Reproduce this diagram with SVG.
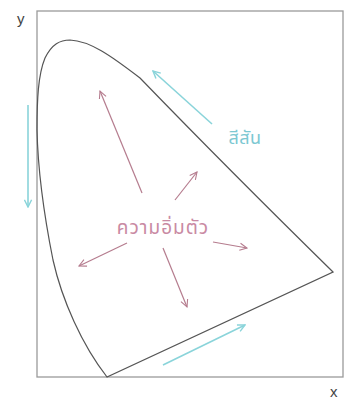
<svg xmlns="http://www.w3.org/2000/svg" width="347" height="401" viewBox="0 0 347 401">
<style>
.frame{fill:none;stroke:#9a9a9a;stroke-width:1.3}
.curve{fill:none;stroke:#555;stroke-width:1.2}
.cy{fill:none;stroke:#8ad4da;stroke-width:1.6;marker-end:url(#hc)}
.pk{fill:none;stroke:#b57c8e;stroke-width:1.2;marker-end:url(#hp)}
.ax{font-family:"Liberation Sans",Arial,sans-serif;font-size:15px;fill:#444}
.th{font-family:"Noto Sans Thai","Noto Sans","DejaVu Sans",sans-serif}
</style>
<defs>
<marker id="hc" viewBox="0 0 10 10" refX="9" refY="5" markerWidth="9" markerHeight="9" markerUnits="userSpaceOnUse" orient="auto"><path d="M1,1 L9,5 L1,9" fill="none" stroke="#8ad4da" stroke-width="1.6"/></marker>
<marker id="hp" viewBox="0 0 10 10" refX="9" refY="5" markerWidth="9" markerHeight="9" markerUnits="userSpaceOnUse" orient="auto"><path d="M1,1 L9,5 L1,9" fill="none" stroke="#b57c8e" stroke-width="1.2"/></marker>
</defs>
<rect width="347" height="401" fill="#fff"/>
<g id="frame">
<rect class="frame" x="37" y="11" width="306" height="366"/>
<text class="ax" x="17" y="24">y</text>
<text class="ax" x="330" y="397">x</text>
</g>
<g id="gamut">
<path class="curve" d="M107,377 C82,345 62,300 53,260 C45,220 38,175 37,130 C37,100 38,75 45,58 C52,44 60,40 70,40 C90,41 110,55 140,78 C200,140 280,220 333,272 Z"/>
</g>
<g id="connectors">
<path class="cy" d="M212,124 L153,71"/>
<path class="cy" d="M28,105 L28,207"/>
<path class="cy" d="M163,365 L245,325"/>
<path class="pk" d="M142,193 L100,91"/>
<path class="pk" d="M175,200 L197,172"/>
<path class="pk" d="M213,242 L247,248"/>
<path class="pk" d="M127,243 L79,266"/>
<path class="pk" d="M163,248 L187,307"/>
</g>
<g id="hue-label"><text class="th" x="245" y="144" font-size="18" fill="#7cc8d2" text-anchor="middle" letter-spacing="0.5">สีสัน</text></g>
<g id="saturation-label"><text class="th" x="163" y="234" font-size="19" fill="#c98aa3" text-anchor="middle" letter-spacing="1">ความอิ่มตัว</text></g>
</svg>
